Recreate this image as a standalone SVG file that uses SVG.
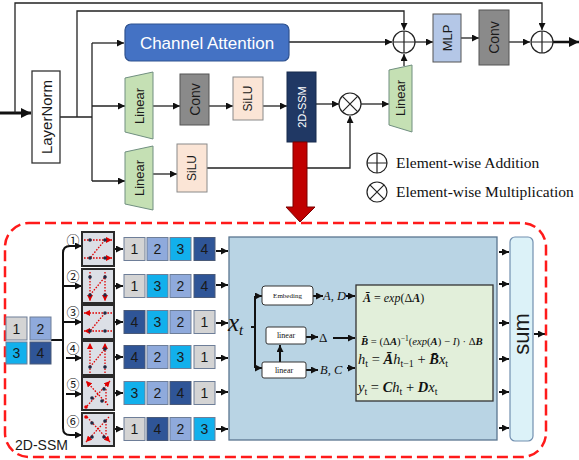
<svg xmlns="http://www.w3.org/2000/svg" width="579" height="460" viewBox="0 0 579 460">
<defs>
<marker id="ah" viewBox="0 0 10 10" refX="10" refY="5" markerWidth="7" markerHeight="7" markerUnits="userSpaceOnUse" orient="auto"><path d="M0,0L10,5L0,10z" fill="#111"/></marker>
<marker id="ahb" viewBox="0 0 10 10" refX="10" refY="5" markerWidth="11" markerHeight="10" markerUnits="userSpaceOnUse" orient="auto"><path d="M0,0L10,5L0,10z" fill="#111"/></marker>
<marker id="ahr" viewBox="0 0 10 10" refX="10" refY="5" markerWidth="6" markerHeight="6" markerUnits="userSpaceOnUse" orient="auto"><path d="M0,0L10,5L0,10z" fill="#e00000"/></marker>
</defs>
<style>
.ln{fill:none;stroke:#222;stroke-width:1.3}
.lnt{fill:none;stroke:#111;stroke-width:2}
.lbl{font-family:"Liberation Sans",Arial,sans-serif;fill:#1a1a1a;text-anchor:middle;dominant-baseline:central}
.ser{font-family:"Liberation Serif","Times New Roman",serif;fill:#111}
.it{font-style:italic}
.bi{font-style:italic;font-weight:bold}
.lin{fill:#C5E0B4;stroke:#708f80;stroke-width:1}
.conv{fill:#8a8a8a;stroke:#555;stroke-width:1}
.silu{fill:#FBE5D6;stroke:#8a8a8a;stroke-width:1}
.op{fill:#fff;stroke:#222;stroke-width:1.2}
.c1{fill:#D4D4D4;stroke:#6e7e98;stroke-width:1}
.c2{fill:#8FAADC;stroke:#6e7e98;stroke-width:1}
.c3{fill:#12B0EC;stroke:#6e7e98;stroke-width:1}
.c4{fill:#2F5597;stroke:#4a5a78;stroke-width:1}
.num{font-family:"Liberation Sans",Arial,sans-serif;font-size:14px;fill:#1a1a1a;text-anchor:middle;dominant-baseline:central}
.icon{fill:#DCDFE6;stroke:#2a2a2a;stroke-width:2}
.rd{fill:none;stroke:#e00000;stroke-width:1.3;stroke-dasharray:1.6 1.4}
.dot{fill:#1f2a44}
.circ{font-family:"Noto Sans CJK SC","DejaVu Sans",sans-serif;font-size:13px;fill:#111;text-anchor:middle;dominant-baseline:central}
.small{font-family:"Liberation Serif","Times New Roman",serif;fill:#111;text-anchor:middle;dominant-baseline:central}
</style>
<rect width="579" height="460" fill="#fff"/>

<g id="connectors">
<line x1="0" y1="113" x2="31" y2="113" stroke="#111" stroke-width="3" marker-end="url(#ahb)"/>
<path class="ln" d="M15,113V3H542V30" marker-end="url(#ah)"/>
<path class="ln" d="M60,117H92M77,117V11H404V30" marker-end="url(#ah)"/>
<path class="ln" d="M92,43V181"/>
<path class="ln" d="M92,43H124" marker-end="url(#ah)"/>
<path class="ln" d="M289,42H392" marker-end="url(#ah)"/>
<path class="ln" d="M92,106H125" marker-end="url(#ah)"/>
<path class="ln" d="M153,106H180" marker-end="url(#ah)"/>
<path class="ln" d="M209,106H233" marker-end="url(#ah)"/>
<path class="ln" d="M263,106H287" marker-end="url(#ah)"/>
<path class="ln" d="M316,104H339" marker-end="url(#ah)"/>
<path class="ln" d="M361,104H389" marker-end="url(#ah)"/>
<path class="ln" d="M404,66V54" marker-end="url(#ah)"/>
<path class="ln" d="M415,42H433" marker-end="url(#ah)"/>
<path class="ln" d="M461,38H479" marker-end="url(#ah)"/>
<path class="ln" d="M509,42H530" marker-end="url(#ah)"/>
<line x1="553" y1="42" x2="579" y2="42" stroke="#111" stroke-width="2.5" marker-end="url(#ahb)"/>
<path class="ln" d="M92,181H125" marker-end="url(#ah)"/>
<path class="ln" d="M153,174H177" marker-end="url(#ah)"/>
<path class="ln" d="M207,168H350V116" marker-end="url(#ah)"/>

<path class="lnt" d="M51,340H63"/>
<path class="lnt" d="M63,340V253Q63,246 70,246H82" marker-end="url(#ah)"/>
<path class="lnt" d="M63,340V428Q63,435 70,435H82" marker-end="url(#ah)"/>
<path class="lnt" d="M63,286H82" marker-end="url(#ah)"/>
<path class="lnt" d="M63,322H82" marker-end="url(#ah)"/>
<path class="lnt" d="M66,358H82" marker-end="url(#ah)"/>
<path class="lnt" d="M66,394H82" marker-end="url(#ah)"/>

<path class="lnt" d="M114,249H123" marker-end="url(#ah)"/>
<path class="lnt" d="M114,286H123" marker-end="url(#ah)"/>
<path class="lnt" d="M114,322H123" marker-end="url(#ah)"/>
<path class="lnt" d="M114,357H123" marker-end="url(#ah)"/>
<path class="lnt" d="M114,393H123" marker-end="url(#ah)"/>
<path class="lnt" d="M114,429H123" marker-end="url(#ah)"/>

<path class="lnt" d="M216,251H228" marker-end="url(#ah)"/>
<path class="lnt" d="M216,285H228" marker-end="url(#ah)"/>
<path class="lnt" d="M216,323H228" marker-end="url(#ah)"/>
<path class="lnt" d="M216,358H228" marker-end="url(#ah)"/>
<path class="lnt" d="M216,392H228" marker-end="url(#ah)"/>
<path class="lnt" d="M216,429H228" marker-end="url(#ah)"/>

<path class="lnt" d="M499,252H509" marker-end="url(#ah)"/>
<path class="lnt" d="M499,284H509" marker-end="url(#ah)"/>
<path class="lnt" d="M499,323H509" marker-end="url(#ah)"/>
<path class="lnt" d="M499,359H509" marker-end="url(#ah)"/>
<path class="lnt" d="M499,392H509" marker-end="url(#ah)"/>
<path class="lnt" d="M499,428H509" marker-end="url(#ah)"/>
<path class="lnt" d="M534,334H545" marker-end="url(#ah)"/>
</g>

<g id="layernorm">
<rect x="32" y="71" width="28" height="92" fill="#fff" stroke="#333" stroke-width="1.3"/>
<text class="lbl" font-size="15" transform="translate(46,117) rotate(-90)">LayerNorm</text>
</g>
<g id="channel-attention">
<rect x="125" y="24" width="164" height="37" rx="6" fill="#4472C4" stroke="#2F528F" stroke-width="1.2"/>
<text class="lbl" font-size="17" x="207" y="43" style="fill:#fff">Channel Attention</text>
</g>
<g id="linear1">
<polygon class="lin" points="125,78 153,72 153,139 125,132"/>
<text class="lbl" font-size="13" transform="translate(139,106) rotate(-90)">Linear</text>
</g>
<g id="conv1">
<rect class="conv" x="180" y="74" width="29" height="51"/>
<text class="lbl" font-size="14" transform="translate(194.5,99.5) rotate(-90)">Conv</text>
</g>
<g id="silu1">
<rect class="silu" x="233" y="77" width="30" height="43"/>
<text class="lbl" font-size="12" transform="translate(248,98.5) rotate(-90)">SiLU</text>
</g>
<g id="ssm-block">
<rect x="287" y="72" width="29" height="70" fill="#203864" stroke="#172a4d" stroke-width="1"/>
<text class="lbl" font-size="11" transform="translate(301.5,107) rotate(-90)" style="fill:#fff">2D-SSM</text>
</g>
<g id="linear3">
<polygon class="lin" points="125,152 153,146 153,210 125,204"/>
<text class="lbl" font-size="13" transform="translate(139,178) rotate(-90)">Linear</text>
</g>
<g id="silu2">
<rect class="silu" x="177" y="144" width="30" height="48"/>
<text class="lbl" font-size="12" transform="translate(192,168) rotate(-90)">SiLU</text>
</g>
<g id="mult">
<circle class="op" cx="350" cy="104" r="11"/>
<path d="M342.2,96.2L357.8,111.8M357.8,96.2L342.2,111.8" stroke="#222" stroke-width="1.2"/>
</g>
<g id="linear2">
<polygon class="lin" points="389,70 412,65 412,132 389,125"/>
<text class="lbl" font-size="13" transform="translate(400.5,98) rotate(-90)">Linear</text>
</g>
<g id="add1">
<circle class="op" cx="404" cy="42" r="11"/>
<path d="M393,42H415M404,31V53" stroke="#222" stroke-width="1.2"/>
</g>
<g id="mlp">
<rect x="433" y="14" width="28" height="48" fill="#B4C7E7" stroke="#555" stroke-width="1"/>
<text class="lbl" font-size="13" transform="translate(447,38) rotate(-90)">MLP</text>
</g>
<g id="conv2">
<rect class="conv" x="479" y="10" width="30" height="55"/>
<text class="lbl" font-size="14" transform="translate(494,37.5) rotate(-90)">Conv</text>
</g>
<g id="add2">
<circle class="op" cx="542" cy="42" r="11"/>
<path d="M531,42H553M542,31V53" stroke="#222" stroke-width="1.2"/>
</g>

<g id="legend">
<circle class="op" cx="377" cy="163" r="10"/>
<path d="M367,163H387M377,153V173" stroke="#222" stroke-width="1.2"/>
<text class="ser" x="396" y="168" font-size="15.5">Element-wise Addition</text>
<circle class="op" cx="377" cy="192" r="10"/>
<path d="M369.9,184.9L384.1,199.1M384.1,184.9L369.9,199.1" stroke="#222" stroke-width="1.2"/>
<text class="ser" x="396" y="197" font-size="15.5">Element-wise Multiplication</text>
</g>

<g id="expand-arrow">
<polygon points="293,142 307,142 307,207 315,207 300,222 286,207 293,207" fill="#C00000" stroke="#7a0000" stroke-width="1"/>
</g>

<g id="ssm-detail">
<rect x="5" y="223" width="541" height="234" rx="24" fill="none" stroke="#ff1a1a" stroke-width="2.5" stroke-dasharray="11 5"/>
<text x="15" y="450" font-family="'Liberation Sans',Arial,sans-serif" font-size="14" fill="#1a1a1a">2D-SSM</text>
</g>

<g id="input-grid">
<rect class="c1" x="6" y="317" width="21" height="23"/><text class="num" x="16.5" y="328.5">1</text>
<rect class="c2" x="30" y="317" width="21" height="23"/><text class="num" x="40.5" y="328.5">2</text>
<rect class="c3" x="6" y="342" width="21" height="22"/><text class="num" x="16.5" y="353">3</text>
<rect class="c4" x="30" y="342" width="21" height="22"/><text class="num" x="40.5" y="353">4</text>
</g>

<g id="scan1" transform="translate(82,232)">
<rect class="icon" x="0" y="0" width="32" height="34"/>
<path class="rd" d="M2,8H30" marker-end="url(#ahr)"/>
<path class="rd" d="M23,8L8,26"/>
<path class="rd" d="M2,26H30" marker-end="url(#ahr)"/>
<circle class="dot" cx="8" cy="8" r="1.8"/><circle class="dot" cx="23" cy="8" r="1.8"/>
<circle class="dot" cx="8" cy="26" r="1.8"/><circle class="dot" cx="23" cy="26" r="1.8"/>
</g>
<text class="circ" x="73" y="239">①</text>
<g id="scan2" transform="translate(82,269)">
<rect class="icon" x="0" y="0" width="32" height="34"/>
<path class="rd" d="M8,3V32" marker-end="url(#ahr)"/>
<path class="rd" d="M8,26L23,8"/>
<path class="rd" d="M23,3V32" marker-end="url(#ahr)"/>
<circle class="dot" cx="8" cy="8" r="1.8"/><circle class="dot" cx="23" cy="8" r="1.8"/>
<circle class="dot" cx="8" cy="26" r="1.8"/><circle class="dot" cx="23" cy="26" r="1.8"/>
</g>
<text class="circ" x="73" y="275">②</text>
<g id="scan3" transform="translate(82,305)">
<rect class="icon" x="0" y="0" width="32" height="34"/>
<path class="rd" d="M30,8H2" marker-end="url(#ahr)"/>
<path class="rd" d="M23,8L8,26"/>
<path class="rd" d="M30,26H2" marker-end="url(#ahr)"/>
<circle class="dot" cx="23" cy="8" r="1.8"/><circle class="dot" cx="23" cy="26" r="1.8"/>
<circle class="dot" cx="8" cy="26" r="1.8"/>
</g>
<text class="circ" x="73" y="311">③</text>
<g id="scan4" transform="translate(82,341)">
<rect class="icon" x="0" y="0" width="32" height="34"/>
<path class="rd" d="M8,32V2" marker-end="url(#ahr)"/>
<path class="rd" d="M8,26L23,8"/>
<path class="rd" d="M23,32V2" marker-end="url(#ahr)"/>
<circle class="dot" cx="8" cy="26" r="1.8"/><circle class="dot" cx="23" cy="26" r="1.8"/>
<circle class="dot" cx="23" cy="8" r="1.8"/>
</g>
<text class="circ" x="73" y="347">④</text>
<g id="scan5" transform="translate(82,377)">
<rect class="icon" x="0" y="0" width="32" height="33"/>
<path class="rd" d="M26,28L4,4" marker-end="url(#ahr)"/>
<path class="rd" d="M5,29L28,4" marker-end="url(#ahr)"/>
<path class="rd" d="M24,12V26"/>
<circle class="dot" cx="10" cy="21" r="1.8"/><circle class="dot" cx="22" cy="12" r="1.8"/>
<circle class="dot" cx="20" cy="24" r="1.8"/>
<circle cx="4" cy="30" r="1.8" fill="#e00000"/>
</g>
<text class="circ" x="73" y="383">⑤</text>
<g id="scan6" transform="translate(82,413)">
<rect class="icon" x="0" y="0" width="32" height="33"/>
<path class="rd" d="M5,4L28,29" marker-end="url(#ahr)"/>
<path class="rd" d="M27,4L4,29" marker-end="url(#ahr)"/>
<path class="rd" d="M24,8V22"/>
<circle class="dot" cx="10" cy="10" r="1.8"/><circle class="dot" cx="23" cy="8" r="1.8"/>
<circle class="dot" cx="10" cy="24" r="1.8"/><circle class="dot" cx="22" cy="24" r="1.8"/>
<circle cx="4" cy="4" r="1.8" fill="#e00000"/>
</g>
<text class="circ" x="73" y="420">⑥</text>

<g id="seq1">
<rect class="c1" x="124" y="237.5" width="21" height="23"/><text class="num" x="134.5" y="249">1</text>
<rect class="c2" x="147" y="237.5" width="21" height="23"/><text class="num" x="157.5" y="249">2</text>
<rect class="c3" x="170" y="237.5" width="21" height="23"/><text class="num" x="180.5" y="249">3</text>
<rect class="c4" x="194" y="237.5" width="21" height="23"/><text class="num" x="204.5" y="249">4</text>
</g>
<g id="seq2">
<rect class="c1" x="124" y="274.5" width="21" height="23"/><text class="num" x="134.5" y="286">1</text>
<rect class="c3" x="147" y="274.5" width="21" height="23"/><text class="num" x="157.5" y="286">3</text>
<rect class="c2" x="170" y="274.5" width="21" height="23"/><text class="num" x="180.5" y="286">2</text>
<rect class="c4" x="194" y="274.5" width="21" height="23"/><text class="num" x="204.5" y="286">4</text>
</g>
<g id="seq3">
<rect class="c4" x="124" y="310.5" width="21" height="23"/><text class="num" x="134.5" y="322">4</text>
<rect class="c3" x="147" y="310.5" width="21" height="23"/><text class="num" x="157.5" y="322">3</text>
<rect class="c2" x="170" y="310.5" width="21" height="23"/><text class="num" x="180.5" y="322">2</text>
<rect class="c1" x="194" y="310.5" width="21" height="23"/><text class="num" x="204.5" y="322">1</text>
</g>
<g id="seq4">
<rect class="c4" x="124" y="345.5" width="21" height="23"/><text class="num" x="134.5" y="357">4</text>
<rect class="c2" x="147" y="345.5" width="21" height="23"/><text class="num" x="157.5" y="357">2</text>
<rect class="c3" x="170" y="345.5" width="21" height="23"/><text class="num" x="180.5" y="357">3</text>
<rect class="c1" x="194" y="345.5" width="21" height="23"/><text class="num" x="204.5" y="357">1</text>
</g>
<g id="seq5">
<rect class="c3" x="124" y="381.5" width="21" height="23"/><text class="num" x="134.5" y="393">3</text>
<rect class="c2" x="147" y="381.5" width="21" height="23"/><text class="num" x="157.5" y="393">2</text>
<rect class="c4" x="170" y="381.5" width="21" height="23"/><text class="num" x="180.5" y="393">4</text>
<rect class="c1" x="194" y="381.5" width="21" height="23"/><text class="num" x="204.5" y="393">1</text>
</g>
<g id="seq6">
<rect class="c1" x="124" y="417.5" width="21" height="23"/><text class="num" x="134.5" y="429">1</text>
<rect class="c4" x="147" y="417.5" width="21" height="23"/><text class="num" x="157.5" y="429">4</text>
<rect class="c2" x="170" y="417.5" width="21" height="23"/><text class="num" x="180.5" y="429">2</text>
<rect class="c3" x="194" y="417.5" width="21" height="23"/><text class="num" x="204.5" y="429">3</text>
</g>

<g id="ssm-core">
<rect x="229" y="237" width="268" height="203" fill="#B9D4E4" stroke="#5a7690" stroke-width="1.3"/>
<text class="ser it" x="228" y="331" font-size="25">x<tspan font-size="15" dy="4">t</tspan></text>
<path class="lnt" d="M251,327H255M255,296V368"/>
<path class="lnt" d="M255,296H262" marker-end="url(#ah)"/>
<path class="lnt" d="M255,368H262" marker-end="url(#ah)"/>
<path class="lnt" d="M280,362V345" marker-end="url(#ah)"/>
<path class="lnt" d="M313,296H323" marker-end="url(#ah)"/>
<path class="lnt" d="M346,296H355" marker-end="url(#ah)"/>
<path class="lnt" d="M306,337H318" marker-end="url(#ah)"/>
<path class="lnt" d="M333,338H355" marker-end="url(#ah)"/>
<path class="lnt" d="M306,370H318" marker-end="url(#ah)"/>
<path class="lnt" d="M347,368H355" marker-end="url(#ah)"/>
<text class="ser it" x="323" y="300" font-size="12.5">A, D</text>
<text class="ser" x="319" y="342" font-size="13">Δ</text>
<text class="ser it" x="320" y="374" font-size="12.5">B, C</text>
</g>
<g id="embeding">
<rect x="262" y="286" width="51" height="19" rx="3" fill="#fff" stroke="#333" stroke-width="1"/>
<text class="small" x="287.5" y="296" font-size="7">Embeding</text>
</g>
<g id="linear-delta">
<rect x="266" y="327" width="40" height="17" rx="2" fill="#fff" stroke="#333" stroke-width="1"/>
<text class="small" x="286" y="335.5" font-size="8">linear</text>
</g>
<g id="linear-bc">
<rect x="262" y="362" width="44" height="16" rx="2" fill="#fff" stroke="#333" stroke-width="1"/>
<text class="small" x="284" y="370" font-size="8">linear</text>
</g>
<g id="equations">
<rect x="356" y="285" width="137" height="116" fill="#E2EFDA" stroke="#333" stroke-width="1.3"/>
<text class="ser" x="363" y="302" font-size="12"><tspan class="bi">Ā</tspan> = <tspan class="it">exp</tspan>(Δ<tspan class="bi">A</tspan>)</text>
<text class="ser" x="361" y="345" font-size="10.7"><tspan class="bi">B̄</tspan> = (Δ<tspan class="bi">A</tspan>)<tspan font-size="7.5" dy="-4">−1</tspan><tspan dy="4">(</tspan><tspan class="it">exp</tspan>(<tspan class="bi">A</tspan>) − <tspan class="it">I</tspan>) · Δ<tspan class="bi">B</tspan></text>
<text class="ser" x="358" y="364" font-size="14.5"><tspan class="it">h</tspan><tspan font-size="10" dy="3">t</tspan><tspan dy="-3"> = </tspan><tspan class="bi">Ā</tspan><tspan class="it">h</tspan><tspan font-size="10" dy="3">t−1</tspan><tspan dy="-3"> + </tspan><tspan class="bi">B̄</tspan><tspan class="it">x</tspan><tspan font-size="10" dy="3">t</tspan></text>
<text class="ser" x="358" y="392" font-size="14.5"><tspan class="it">y</tspan><tspan font-size="10" dy="3">t</tspan><tspan dy="-3"> = </tspan><tspan class="bi">C</tspan><tspan class="it">h</tspan><tspan font-size="10" dy="3">t</tspan><tspan dy="-3"> + </tspan><tspan class="bi">D</tspan><tspan class="it">x</tspan><tspan font-size="10" dy="3">t</tspan></text>
</g>
<g id="sum">
<rect x="510" y="237" width="23" height="204" rx="5" fill="#DCF2F8" stroke="#7290b0" stroke-width="1.2"/>
<text class="lbl" font-size="22" transform="translate(521.5,334) rotate(-90)">sum</text>
</g>
</svg>
